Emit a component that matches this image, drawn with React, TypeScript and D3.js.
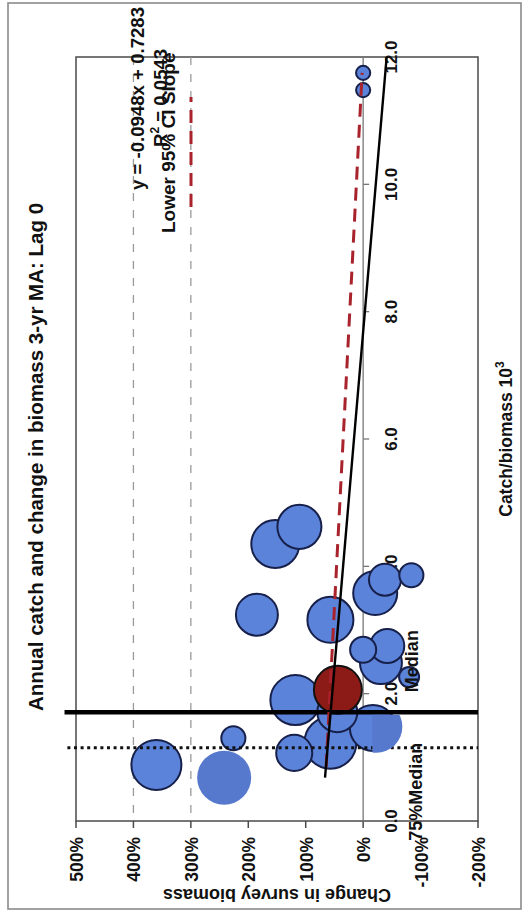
import React from 'react';
import * as d3 from 'd3';

// Axis ticks
const catchTicks = [0, 2, 4, 6, 8, 10, 12];
const changeTicks = [5, 4, 3, 2, 1, 0, -1, -2];
const gridChanges = [4, 3];

// Annual points: catch/biomass (x10^3), change in survey biomass (fraction), bubble size
const pointCatch = [4.35, 4.62, 3.24, 3.16, 3.79, 3.58, 3.86, 2.69, 2.75, 2.26, 2.48, 1.9, 1.71, 1.23, 1.07, 1.46, 1.3, 0.88, 11.75, 11.48];
const pointChange = [1.53, 1.11, 1.85, 0.57, -0.38, -0.21, -0.84, 0.0, -0.42, -0.8, -0.31, 1.18, 0.45, 0.57, 1.2, -0.17, 2.26, 3.6, 0.0, 0.0];
const pointSize = [23, 19.4, 17.6, 21.2, 10.2, 19.4, 5.8, 6.8, 11.6, 4.0, 17.6, 25, 16, 27, 13, 21.2, 5.8, 25, 2.0, 2.0];

// Latest year
const latestCatch = [2.06];
const latestChange = [0.44];
const latestSize = [23];

// Unoutlined points
const plainCatch = [0.68];
const plainChange = [2.42];
const plainSize = [29.2];
const patchCatch = [1.48];
const patchChange = [-0.23];
const patchSize = [27];

// Reference lines (catch/biomass values)
const medianCatch = 1.71;
const quartileCatch = 1.15;

// Trend line and lower 95% CI slope line
const trendSlope = -0.0948;
const trendIntercept = 0.7283;
const trendRange = [0.68, 12];
const ciSlope = -0.0575;
const ciIntercept = 0.693;
const ciRange = [0.85, 11.75];

const titleText = 'Annual catch and change in biomass 3-yr MA: Lag 0';
const equationText = 'y = -0.0948x + 0.7283';
const rSquaredValue = '0.0543';

const W = 528;
const H = 914;
const FONT = '"Liberation Sans", Arial, Helvetica, sans-serif';

const fmtLocale = d3.formatLocale({
  decimal: '.',
  thousands: ',',
  grouping: [3],
  currency: ['$', ''],
  minus: '-',
});
const pct = fmtLocale.format('.0%');
const one = fmtLocale.format('.1f');

export default function App() {
  // change -> horizontal position (500% at left), catch -> vertical (0 at bottom)
  const x = d3.scaleLinear().domain([5, -2]).range([76, 478]);
  const y = d3.scaleLinear().domain([0, 12]).range([821, 57]);
  const r = d3.scaleSqrt().domain([0, 25]).range([0, 25]);

  const line = d3
    .line<[number, number]>()
    .x((d) => x(d[1]))
    .y((d) => y(d[0]));

  const trendPts: [number, number][] = trendRange.map((c) => [c, trendIntercept + trendSlope * c]);
  const ciPts: [number, number][] = ciRange.map((c) => [c, ciIntercept + ciSlope * c]);

  const axisX = x(0);
  const left = x(5);
  const right = x(-2);
  const top = y(12);
  const bottom = y(0);

  const points = pointCatch.map((c, i) => ({ c, v: pointChange[i], s: pointSize[i] }));
  // draw larger bubbles first
  const ordered = points.slice().sort((a, b) => b.s - a.s);

  const patch = patchCatch.map((c, i) => ({ c, v: patchChange[i], s: patchSize[i] }));

  return (
    <svg
      width={W}
      height={H}
      style={{ position: 'absolute', left: 0, top: 0, background: '#fff' }}
      fontFamily={FONT}
    >
      <defs>
        {patch.map((p, i) => (
          <clipPath id={`patch-clip-${i}`} key={i}>
            <rect x={x(p.v) - 4} y={y(p.c) - 12} width={80} height={80} />
          </clipPath>
        ))}
      </defs>
      <rect x={0} y={0} width={W} height={H} fill="#fff" />
      {/* chart frame */}
      <rect x={8} y={3} width={513} height={906} fill="none" stroke="#8a8a8a" strokeWidth={1.6} />

      {/* plot area */}
      <rect x={left} y={top} width={right - left} height={bottom - top} fill="none" stroke="#4a4a4a" strokeWidth={1.5} />

      {/* dashed guide lines */}
      {gridChanges.map((g) => (
        <line key={g} x1={x(g)} x2={x(g)} y1={top} y2={bottom} stroke="#9a9a9a" strokeWidth={1.3} strokeDasharray="8,9" />
      ))}

      {/* change axis ticks and labels */}
      {changeTicks.map((t) => (
        <g key={t}>
          <line x1={x(t)} x2={x(t)} y1={bottom} y2={bottom + 7} stroke="#4a4a4a" strokeWidth={1.5} />
          <text
            transform={`translate(${x(t) + 7},${bottom + 16}) rotate(-90)`}
            textAnchor="end"
            fontSize={17.5}
            fontWeight="bold"
            fill="#111"
          >
            {pct(t)}
          </text>
        </g>
      ))}

      {/* catch axis at 0% */}
      <line x1={axisX} x2={axisX} y1={top} y2={bottom} stroke="#777" strokeWidth={1.3} />
      {catchTicks.map((t) => (
        <g key={t}>
          <line x1={axisX} x2={axisX + 6} y1={y(t)} y2={y(t)} stroke="#777" strokeWidth={1.3} />
          <text
            transform={`translate(${axisX + 34},${y(t)}) rotate(-90)`}
            textAnchor="middle"
            fontSize={17}
            fontWeight="bold"
            fill="#111"
          >
            {one(t)}
          </text>
        </g>
      ))}

      {/* bubbles */}
      {ordered.map((p, i) => (
        <circle key={i} cx={x(p.v)} cy={y(p.c)} r={r(p.s)} fill="#5b83d9" stroke="#17204a" strokeWidth={2} />
      ))}
      {latestCatch.map((c, i) => (
        <circle key={i} cx={x(latestChange[i])} cy={y(c)} r={r(latestSize[i])} fill="#8c1a16" stroke="#111" strokeWidth={2} />
      ))}

      {/* median and 75% median catch lines */}
      <line x1={x(5.2)} x2={right} y1={y(medianCatch)} y2={y(medianCatch)} stroke="#000" strokeWidth={4.5} />
      <line
        x1={x(5.15)}
        x2={right}
        y1={y(quartileCatch)}
        y2={y(quartileCatch)}
        stroke="#111"
        strokeWidth={3}
        strokeDasharray="3,3.6"
      />

      {/* trend and lower CI slope */}
      <path d={line(ciPts) || ''} fill="none" stroke="#a8232c" strokeWidth={3} strokeDasharray="13,8" />
      <path d={line(trendPts) || ''} fill="none" stroke="#000" strokeWidth={2.4} />

      {/* unoutlined bubbles */}
      {plainCatch.map((c, i) => (
        <circle key={i} cx={x(plainChange[i])} cy={y(c)} r={r(plainSize[i])} fill="#5779cd" />
      ))}
      {patch.map((p, i) => (
        <circle
          key={i}
          cx={x(p.v)}
          cy={y(p.c)}
          r={r(p.s)}
          fill="#5779cd"
          clipPath={`url(#patch-clip-${i})`}
        />
      ))}

      {/* line labels */}
      <text transform={`translate(418,${y(medianCatch) - 20}) rotate(-90)`} fontSize={18} fontWeight="bold" fill="#111">
        Median
      </text>
      <text transform={`translate(422,${y(quartileCatch) - 5}) rotate(-90)`} textAnchor="end" fontSize={18} fontWeight="bold" fill="#111">
        75%Median
      </text>

      {/* regression annotation */}
      <text transform="translate(144,190) rotate(-90)" fontSize={18.6} fontWeight="bold" fill="#111">
        {equationText}
      </text>
      <text transform="translate(167,147) rotate(-90)" fontSize={18.6} fontWeight="bold" fill="#111">
        R<tspan fontSize={12} dy={-8}>2</tspan>
        <tspan dy={8}> = {rSquaredValue}</tspan>
      </text>
      <text transform="translate(175,233) rotate(-90)" fontSize={19} fontWeight="bold" fill="#111">
        Lower 95% CI Slope
      </text>
      <line x1={191} x2={191} y1={207} y2={97} stroke="#a8232c" strokeWidth={3} strokeDasharray="13,8" />

      {/* titles */}
      <text transform="translate(43,457) rotate(-90)" textAnchor="middle" fontSize={20.5} fontWeight="bold" fill="#111">
        {titleText}
      </text>
      <text transform={`translate(512,${(top + bottom) / 2}) rotate(-90)`} textAnchor="middle" fontSize={17.5} fontWeight="bold" fill="#111">
        Catch/biomass 10<tspan fontSize={12} dy={-8}>3</tspan>
      </text>
      <text transform={`translate(${(left + right) / 2},889) rotate(180)`} textAnchor="middle" fontSize={18} fontWeight="bold" fill="#111">
        Change in survey biomass
      </text>
    </svg>
  );
}
